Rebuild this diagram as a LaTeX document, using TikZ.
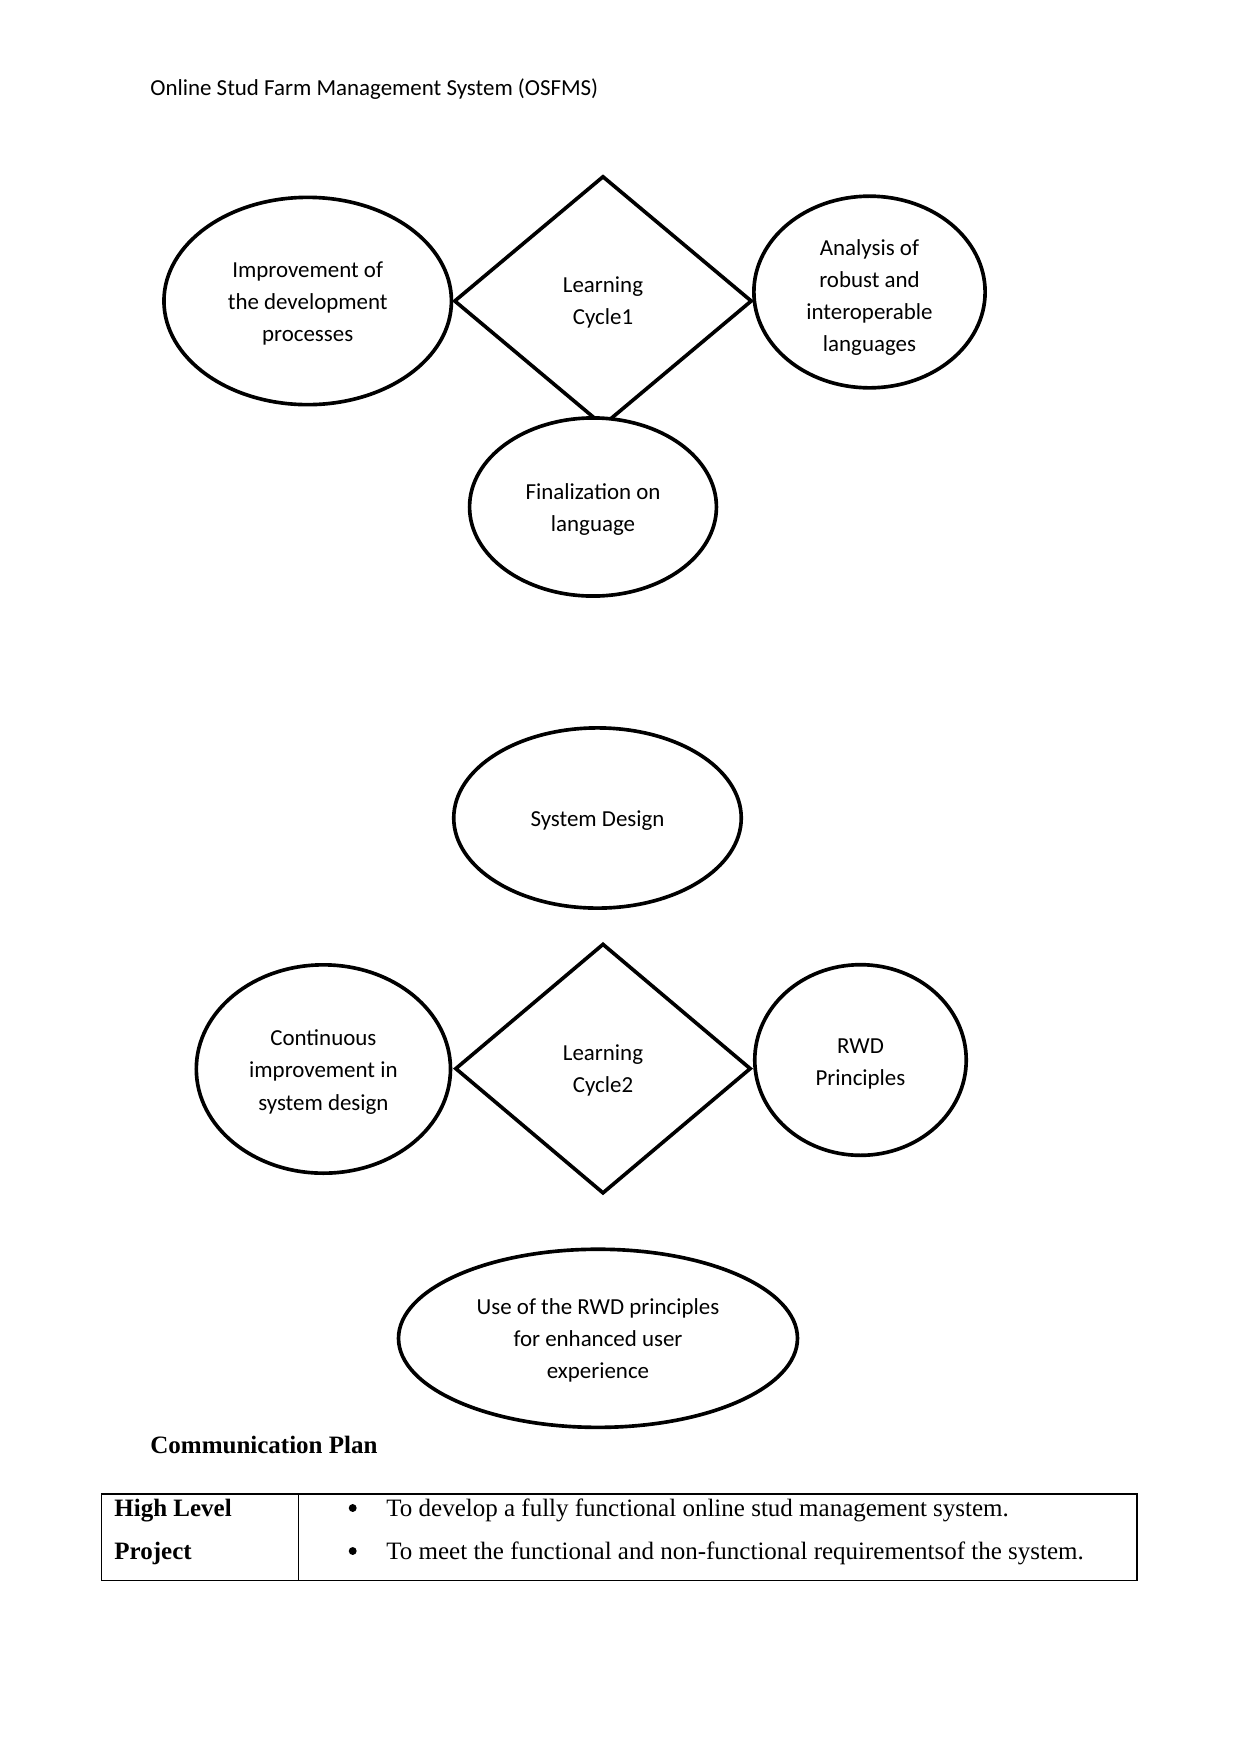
\documentclass[tikz,border=0pt]{standalone}
\usepackage{fontspec}
\setmainfont{Carlito}
\newfontfamily\tnr{Liberation Serif}
\usetikzlibrary{shapes.geometric}
\begin{document}
\begin{tikzpicture}[x=0.48pt,y=-0.48pt,
  bub/.style={ellipse,draw,line width=1.75pt,fill=white,inner sep=0pt},
  dia/.style={diamond,draw,line width=1.75pt,inner sep=0pt},
  lab/.style={inner sep=0pt,align=center,font=\fontsize{11}{15.4}\selectfont},
  tt/.style={inner sep=0pt,anchor=base west,font=\tnr\fontsize{12}{14}\selectfont},
  dot/.style={circle,fill=black,inner sep=0pt,minimum size=3.8pt}]
\useasboundingbox[fill=white] (0,0) rectangle (1241,1754);
\node[inner sep=0pt,anchor=west,font=\fontsize{11}{13}\selectfont] (title) at (150,89.5) {Online Stud Farm Management System (OSFMS)};
% top cluster
\node[dia,minimum width=143pt,minimum height=120pt,
  label={[lab,yshift=-0.55pt]center:{Learning\\Cycle1}}] (d1) at (603,301) {};
\node[bub,minimum width=138pt,minimum height=99.5pt,
  label={[lab,yshift=-1.35pt]center:{Improvement of\\the development\\processes}}] (l1) at (307.7,301) {};
\node[bub,minimum width=111pt,minimum height=92pt,
  label={[lab,yshift=-2.7pt]center:{Analysis of\\robust and\\interoperable\\languages}}] (r1) at (869.5,292) {};
\node[bub,minimum width=118.5pt,minimum height=85.5pt,
  label={[lab,yshift=-1.35pt]center:{Finalization on\\language}}] (f1) at (593,507) {};
% middle
\node[bub,minimum width=138pt,minimum height=86.5pt,
  label={[lab,yshift=-1.1pt]center:{System Design}}] (sd) at (597.5,818) {};
\node[dia,minimum width=142pt,minimum height=120pt,
  label={[lab,yshift=-0.8pt]center:{Learning\\Cycle2}}] (d2) at (603,1068.6) {};
\node[bub,minimum width=122pt,minimum height=100pt,
  label={[lab,yshift=-1.45pt]center:{Continuous\\improvement in\\system design}}] (l2) at (323.4,1069) {};
\node[bub,minimum width=101.5pt,minimum height=91.5pt,
  label={[lab,yshift=-1.9pt]center:{RWD\\Principles}}] (r2) at (860.5,1060) {};
\node[bub,minimum width=191.5pt,minimum height=85.5pt,
  label={[lab,yshift=-1.1pt]center:{Use of the RWD principles\\for enhanced user\\experience}}] (b) at (598,1338.3) {};
% communication plan
\node[inner sep=0pt,anchor=west,font=\tnr\bfseries\fontsize{12}{14}\selectfont] (cp) at (150,1444.6) {Communication Plan};
\draw[line width=0.5pt] (101.8,1494) rectangle (1137,1580);
\draw[line width=0.5pt] (298.8,1494) -- (298.8,1580);
\node[tt,font=\tnr\bfseries\fontsize{12}{14}\selectfont] (h1) at (114,1516) {High Level};
\node[tt,font=\tnr\bfseries\fontsize{12}{14}\selectfont] (h2) at (114,1559) {Project};
\node[dot] (bu1) at (352.7,1508) {};
\node[dot] (bu2) at (352.7,1551) {};
\node[tt] (t1) at (386,1516) {To develop a fully functional online stud management system.};
\node[tt] (t2) at (386,1559) {To meet the functional and non-functional requirementsof the system.};
\end{tikzpicture}
\end{document}
